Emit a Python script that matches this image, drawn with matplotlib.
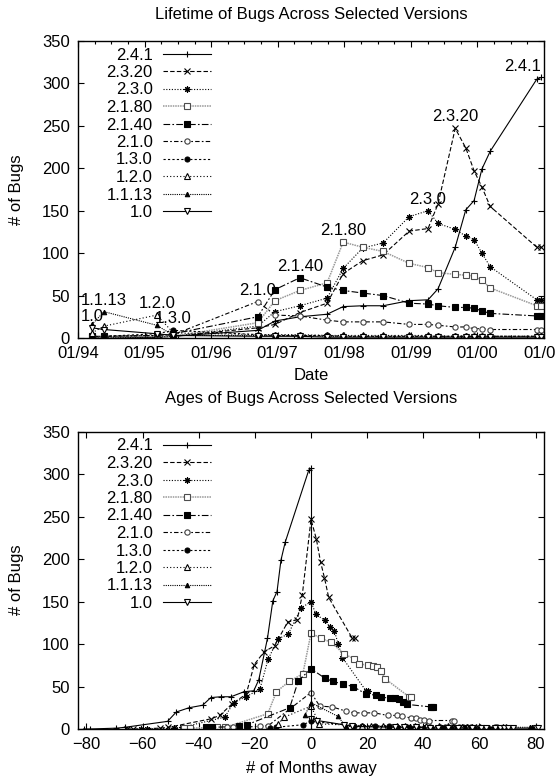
import matplotlib
matplotlib.use('Agg')
import matplotlib.pyplot as plt
import numpy as np

plt.rcParams['font.family'] = ['Liberation Sans', 'DejaVu Sans']
plt.rcParams['font.size'] = 12

# ---------------- data ----------------
versions = ['2.4.1', '2.3.20', '2.3.0', '2.1.80', '2.1.40', '2.1.0',
            '1.3.0', '1.2.0', '1.1.13', '1.0']

# sample dates, months since 01/1994
sample_months = [2.5, 4.7, 14.2, 17.2, 32.4, 35.5, 40.0, 44.9, 47.8, 51.3, 55.0,
                 59.7, 63.1, 64.9, 68.0, 69.9, 71.4, 72.8, 74.3, 82.7, 83.5]

bugs_2_4_1 = [0, 0, 1, 2, 9, 20, 25, 28, 37, 38, 38, 44, 45, 58, 107, 151, 162, 199, 220, 305, 307]
bugs_2_3_20 = [0, 0, 1, 2, 12, 16, 30, 41, 76, 91, 98, 126, 129, 158, 247, 224, 197, 178, 155, 107, 107]
bugs_2_3_0 = [0, 0, 1, 2, 14, 31, 38, 47, 82, 106, 112, 143, 150, 135, 128, 120, 116, 100, 84, 45, 45]
bugs_2_1_80 = [1, 1, 2, 2, 18, 44, 56, 65, 113, 107, 102, 88, 83, 77, 75, 74, 73, 68, 59, 38, 38]
bugs_2_1_40 = [2, 2, 3, 5, 25, 57, 71, 60, 56, 53, 50, 41, 40, 38, 36, 36, 35, 32, 29, 26, 26]
bugs_2_1_0 = [2, 2, 3, 4, 43, 27, 26, 21, 19, 19, 19, 16, 16, 15, 13, 13, 11, 11, 10, 10, 10]
bugs_1_3_0 = [1, 2, 5, 9, 4, 3, 3, 3, 2, 2, 2, 2, 2, 2, 2, 2, 2, 2, 2, 2, 2]
bugs_1_2_0 = [6, 14, 27, 6, 4, 4, 4, 3, 3, 3, 3, 3, 3, 2, 2, 2, 2, 2, 2, 2, 2]
bugs_1_1_13 = [16, 31, 15, 3, 3, 3, 3, 2, 2, 2, 2, 2, 2, 2, 2, 2, 2, 2, 2, 2, 2]
bugs_1_0 = [12, 10, 5, 3, 2, 2, 2, 1, 1, 1, 1, 1, 1, 1, 1, 1, 1, 1, 1, 1, 1]

release_months = [83.5, 68.0, 63.1, 47.8, 40.0, 32.4, 17.2, 14.2, 4.7, 2.5]

date_ticks = [0, 12, 24, 36, 48, 60, 72, 84]
date_labels = ['01/94', '01/95', '01/96', '01/97', '01/98', '01/99', '01/00', '01/01']
away_ticks = [-80, -60, -40, -20, 0, 20, 40, 60, 80]
bug_ticks = [0, 50, 100, 150, 200, 250, 300, 350]

series = [bugs_2_4_1, bugs_2_3_20, bugs_2_3_0, bugs_2_1_80, bugs_2_1_40,
          bugs_2_1_0, bugs_1_3_0, bugs_1_2_0, bugs_1_1_13, bugs_1_0]

# ---------------- styles ----------------
styles = [
    dict(color='k', ls='-', marker='+', ms=5, mfc='k', mec='k', lw=0.8),
    dict(color='k', ls=(0, (4, 2)), marker='x', ms=3.8, mfc='k', mec='k', lw=0.8),
    dict(color='k', ls=(0, (1, 1.5)), marker=(8, 2, 0), ms=4.5, mfc='k', mec='k', lw=0.8),
    dict(color='0.6', ls=(0, (1, 0.6)), marker='s', ms=3.8, mfc='white', mec='0.3', lw=1.1),
    dict(color='k', ls=(0, (6, 2, 1.5, 2)), marker='s', ms=4.3, mfc='k', mec='k', lw=0.8),
    dict(color='k', ls=(0, (4, 2, 1.5, 2)), marker='o', ms=3.8, mfc='white', mec='0.25', lw=0.8),
    dict(color='k', ls=(0, (2, 2)), marker='o', ms=3.6, mfc='k', mec='k', lw=0.8),
    dict(color='k', ls=(0, (1, 2)), marker='^', ms=4, mfc='white', mec='k', lw=0.8),
    dict(color='k', ls=(0, (1, 1)), marker='^', ms=3.2, mfc='k', mec='k', lw=0.8),
    dict(color='k', ls='-', marker='v', ms=4, mfc='white', mec='k', lw=0.8),
]

W, H = 556, 784
fig = plt.figure(figsize=(W / 100, H / 100), dpi=100)

L, R = 78, 544
PH = 297
ax1 = fig.add_axes([L / W, 1 - 338 / H, (R - L) / W, PH / H])
ax2 = fig.add_axes([L / W, 1 - 729 / H, (R - L) / W, PH / H])

for v, ys, st, rel in zip(versions, series, styles, release_months):
    xs = np.array(sample_months)
    ax1.plot(xs, ys, mew=0.8, label=v, **st)
    ax2.plot(xs - rel, ys, mew=0.8, label=v, **st)

# vertical line at release (0 months) up to the 2.4.1 peak
ax2.vlines(0, 0, max(bugs_2_4_1), color='k', lw=0.8)

# peak labels on the lifetime chart
for v, ys, rel in zip(versions, series, release_months):
    peak = max(ys)
    ha = 'right' if v == '2.4.1' else 'center'
    ax1.annotate(v, (rel, peak), xytext=(0, 5), textcoords='offset points',
                 ha=ha, va='baseline', fontsize=12)

ax1.set_xlim(0, 84)
ax1.set_ylim(0, 350)
ax1.set_xticks(date_ticks)
ax1.set_xticklabels(date_labels)
ax1.set_xticks(np.arange(0, 85, 3), minor=True)

ax2.set_xlim(-83, 83)
ax2.set_ylim(0, 350)
ax2.set_xticks(away_ticks)

for ax in (ax1, ax2):
    ax.set_yticks(bug_ticks)
    ax.tick_params(direction='in', which='major', length=4.5, width=0.8,
                   top=True, right=True, pad=6, labelsize=12)
    ax.tick_params(direction='in', which='minor', length=2.5, width=0.8,
                   top=True, right=True)
    for s in ax.spines.values():
        s.set_linewidth(1.0)
    ax.legend(loc='upper right', bbox_to_anchor=((211 - L) / (R - L), 1 - 6.5 / PH),
              frameon=False, markerfirst=False, handlelength=2.9, handletextpad=0.6,
              labelspacing=0.15, borderaxespad=0.0, borderpad=0.0, fontsize=12)

fig.text((L + R) / 2 / W, 1 - 14 / H, 'Lifetime of Bugs Across Selected Versions',
         ha='center', va='center', fontsize=12)
fig.text((L + R) / 2 / W, 1 - 376 / H, 'Date', ha='center', va='center', fontsize=12)
fig.text((L + R) / 2 / W, 1 - 398 / H, 'Ages of Bugs Across Selected Versions',
         ha='center', va='center', fontsize=12)
fig.text((L + R) / 2 / W, 1 - 768 / H, '# of Months away', ha='center', va='center',
         fontsize=12)
fig.text(16 / W, 1 - 190 / H, '# of Bugs', rotation=90, ha='center', va='center',
         fontsize=12)
fig.text(16 / W, 1 - 580 / H, '# of Bugs', rotation=90, ha='center', va='center',
         fontsize=12)

fig.savefig('out.png', dpi=100)
